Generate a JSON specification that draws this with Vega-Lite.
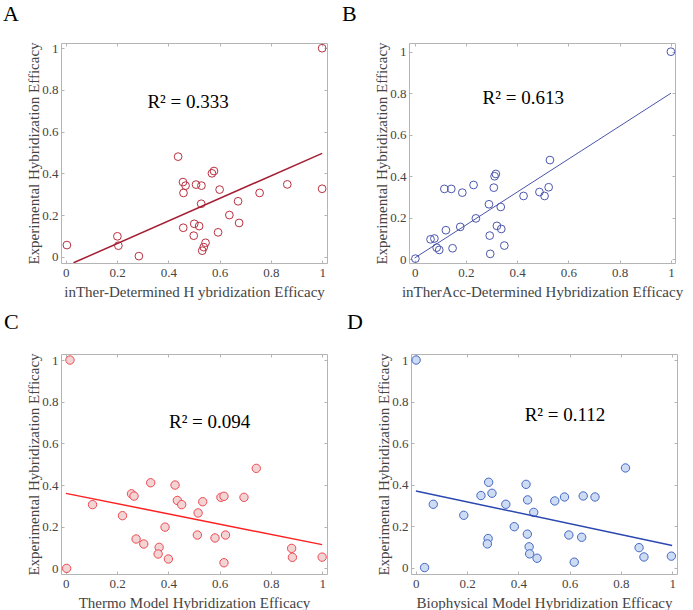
{
  "$schema": "https://vega.github.io/schema/vega-lite/v6.json",
  "padding": {"left": 2, "top": 2, "right": 0, "bottom": 0},
  "background": "white",
  "config": {
    "view": {"stroke": "#b4b4b4", "strokeWidth": 1},
    "font": "Liberation Serif",
    "axis": {
      "grid": false, "domain": false, "tickSize": -3, "tickColor": "#b4b4b4",
      "labelFont": "Liberation Serif", "labelFontSize": 13, "labelColor": "#444444",
      "titleFont": "Liberation Serif", "titleFontSize": 15, "titleColor": "#444444", "titleFontWeight": "normal",
      "values": [0, 0.2, 0.4, 0.6, 0.8, 1], "format": "~g", "labelPadding": 6
    },
    "axisX": {"titlePadding": 5},
    "axisY": {"titlePadding": 0},
    "title": {"font": "Liberation Serif", "fontSize": 22, "fontWeight": "normal", "anchor": "start", "frame": "group", "color": "#000000", "offset": 16}
  },
  "datasets": {
    "ptsA": [
      {"x": 1.0, "y": 1.0}, {"x": 0.438, "y": 0.48}, {"x": 0.578, "y": 0.411}, {"x": 0.57, "y": 0.4},
      {"x": 0.457, "y": 0.358}, {"x": 0.467, "y": 0.341}, {"x": 0.508, "y": 0.346}, {"x": 0.529, "y": 0.341},
      {"x": 0.459, "y": 0.306}, {"x": 0.6, "y": 0.322}, {"x": 0.528, "y": 0.254}, {"x": 0.864, "y": 0.347},
      {"x": 1.0, "y": 0.326}, {"x": 0.756, "y": 0.306}, {"x": 0.672, "y": 0.266}, {"x": 0.638, "y": 0.2},
      {"x": 0.676, "y": 0.162}, {"x": 0.594, "y": 0.117}, {"x": 0.501, "y": 0.158}, {"x": 0.52, "y": 0.147},
      {"x": 0.458, "y": 0.139}, {"x": 0.499, "y": 0.101}, {"x": 0.545, "y": 0.067}, {"x": 0.538, "y": 0.046},
      {"x": 0.532, "y": 0.029}, {"x": 0.201, "y": 0.098}, {"x": 0.205, "y": 0.053}, {"x": 0.004, "y": 0.056},
      {"x": 0.285, "y": 0.003}
    ],
    "ptsB": [
      {"x": 1.0, "y": 1.0}, {"x": 0.528, "y": 0.478}, {"x": 0.317, "y": 0.411}, {"x": 0.312, "y": 0.4},
      {"x": 0.23, "y": 0.358}, {"x": 0.116, "y": 0.339}, {"x": 0.143, "y": 0.339}, {"x": 0.186, "y": 0.321},
      {"x": 0.309, "y": 0.345}, {"x": 0.523, "y": 0.347}, {"x": 0.487, "y": 0.324}, {"x": 0.507, "y": 0.305},
      {"x": 0.425, "y": 0.305}, {"x": 0.29, "y": 0.265}, {"x": 0.336, "y": 0.252}, {"x": 0.239, "y": 0.197},
      {"x": 0.178, "y": 0.156}, {"x": 0.321, "y": 0.161}, {"x": 0.338, "y": 0.146}, {"x": 0.122, "y": 0.14},
      {"x": 0.293, "y": 0.114}, {"x": 0.062, "y": 0.096}, {"x": 0.077, "y": 0.1}, {"x": 0.086, "y": 0.056},
      {"x": 0.096, "y": 0.045}, {"x": 0.148, "y": 0.053}, {"x": 0.35, "y": 0.066}, {"x": 0.295, "y": 0.026},
      {"x": 0.003, "y": 0.003}
    ],
    "ptsC": [
      {"x": 0.016, "y": 1.0}, {"x": 0.743, "y": 0.48}, {"x": 0.331, "y": 0.411}, {"x": 0.426, "y": 0.4},
      {"x": 0.256, "y": 0.358}, {"x": 0.266, "y": 0.347}, {"x": 0.104, "y": 0.306}, {"x": 0.435, "y": 0.326},
      {"x": 0.452, "y": 0.306}, {"x": 0.534, "y": 0.32}, {"x": 0.605, "y": 0.341}, {"x": 0.617, "y": 0.346},
      {"x": 0.695, "y": 0.341}, {"x": 0.516, "y": 0.266}, {"x": 0.221, "y": 0.253}, {"x": 0.387, "y": 0.198},
      {"x": 0.513, "y": 0.16}, {"x": 0.623, "y": 0.16}, {"x": 0.582, "y": 0.146}, {"x": 0.274, "y": 0.141},
      {"x": 0.304, "y": 0.117}, {"x": 0.364, "y": 0.101}, {"x": 0.36, "y": 0.069}, {"x": 0.4, "y": 0.045},
      {"x": 0.617, "y": 0.027}, {"x": 0.881, "y": 0.096}, {"x": 0.884, "y": 0.053}, {"x": 1.0, "y": 0.054},
      {"x": 0.003, "y": 0.0}
    ],
    "ptsD": [
      {"x": 0.001, "y": 1.0}, {"x": 0.818, "y": 0.48}, {"x": 0.284, "y": 0.411}, {"x": 0.43, "y": 0.401},
      {"x": 0.254, "y": 0.347}, {"x": 0.297, "y": 0.358}, {"x": 0.068, "y": 0.305}, {"x": 0.436, "y": 0.326},
      {"x": 0.351, "y": 0.305}, {"x": 0.542, "y": 0.321}, {"x": 0.58, "y": 0.34}, {"x": 0.653, "y": 0.345},
      {"x": 0.699, "y": 0.34}, {"x": 0.46, "y": 0.266}, {"x": 0.187, "y": 0.252}, {"x": 0.384, "y": 0.197},
      {"x": 0.435, "y": 0.161}, {"x": 0.597, "y": 0.157}, {"x": 0.647, "y": 0.146}, {"x": 0.282, "y": 0.14},
      {"x": 0.279, "y": 0.114}, {"x": 0.442, "y": 0.1}, {"x": 0.444, "y": 0.066}, {"x": 0.473, "y": 0.045},
      {"x": 0.618, "y": 0.026}, {"x": 0.871, "y": 0.096}, {"x": 0.89, "y": 0.051}, {"x": 0.997, "y": 0.055},
      {"x": 0.034, "y": 0.0}
    ],
    "fitA": [{"x": 0.03, "y": -0.029}, {"x": 1.0, "y": 0.496}],
    "fitB": [{"x": 0.0, "y": 0.006}, {"x": 1.0, "y": 0.8}],
    "fitC": [{"x": 0.0, "y": 0.36}, {"x": 1.0, "y": 0.114}],
    "fitD": [{"x": 0.0, "y": 0.369}, {"x": 1.0, "y": 0.106}],
    "r2A": [{"x": 0.477, "y": 0.744, "t": "R² = 0.333"}],
    "r2B": [{"x": 0.424, "y": 0.775, "t": "R² = 0.613"}],
    "r2C": [{"x": 0.561, "y": 0.704, "t": "R² = 0.094"}],
    "r2D": [{"x": 0.582, "y": 0.735, "t": "R² = 0.112"}]
  },
  "spacing": 10,
  "vconcat": [
    {
      "spacing": 12,
      "hconcat": [
        {
          "title": {"text": "A", "dx": -58},
          "width": 266, "height": 220,
          "resolve": {"axis": {"x": "independent", "y": "independent"}},
          "layer": [
            {
              "data": {"name": "ptsA"},
              "mark": {"type": "point", "shape": "circle", "size": 60, "filled": false, "stroke": "#b8303f", "strokeWidth": 1, "opacity": 1},
              "encoding": {
                "x": {"field": "x", "type": "quantitative", "scale": {"domain": [-0.019, 1.019], "nice": false, "zero": false}, "axis": {"title": "inTher-Determined H ybridization Efficacy"}},
                "y": {"field": "y", "type": "quantitative", "scale": {"domain": [-0.03, 1.025], "nice": false, "zero": false}, "axis": {"title": "Experimental Hybridization Efficacy"}}
              }
            },
            {
              "data": {"name": "fitA"},
              "mark": {"type": "line", "color": "#a51d33", "strokeWidth": 1.5, "clip": true},
              "encoding": {
                "x": {"field": "x", "type": "quantitative", "axis": {"orient": "top", "labels": false, "title": null}},
                "y": {"field": "y", "type": "quantitative", "axis": {"orient": "right", "labels": false, "title": null}}
              }
            },
            {
              "data": {"name": "r2A"},
              "mark": {"type": "text", "fontSize": 19, "font": "Liberation Serif", "color": "#000000", "align": "center", "baseline": "middle"},
              "encoding": {"x": {"field": "x", "type": "quantitative", "axis": null}, "y": {"field": "y", "type": "quantitative", "axis": null}, "text": {"field": "t"}}
            }
          ]
        },
        {
          "title": {"text": "B", "dx": -67},
          "width": 266, "height": 220,
          "resolve": {"axis": {"x": "independent", "y": "independent"}},
          "layer": [
            {
              "data": {"name": "ptsB"},
              "mark": {"type": "point", "shape": "circle", "size": 60, "filled": false, "stroke": "#4b57ad", "strokeWidth": 1, "opacity": 1},
              "encoding": {
                "x": {"field": "x", "type": "quantitative", "scale": {"domain": [-0.022, 1.016], "nice": false, "zero": false}, "axis": {"title": "inTherAcc-Determined Hybridization Efficacy"}},
                "y": {"field": "y", "type": "quantitative", "scale": {"domain": [-0.018, 1.042], "nice": false, "zero": false}, "axis": {"title": "Experimental Hybridization Efficacy"}}
              }
            },
            {
              "data": {"name": "fitB"},
              "mark": {"type": "line", "color": "#4a55a8", "strokeWidth": 1, "clip": true},
              "encoding": {
                "x": {"field": "x", "type": "quantitative", "axis": {"orient": "top", "labels": false, "title": null}},
                "y": {"field": "y", "type": "quantitative", "axis": {"orient": "right", "labels": false, "title": null}}
              }
            },
            {
              "data": {"name": "r2B"},
              "mark": {"type": "text", "fontSize": 19, "font": "Liberation Serif", "color": "#000000", "align": "center", "baseline": "middle"},
              "encoding": {"x": {"field": "x", "type": "quantitative", "axis": null}, "y": {"field": "y", "type": "quantitative", "axis": null}, "text": {"field": "t"}}
            }
          ]
        }
      ]
    },
    {
      "spacing": 17,
      "hconcat": [
        {
          "title": {"text": "C", "dx": -57, "offset": 19},
          "width": 266, "height": 220,
          "resolve": {"axis": {"x": "independent", "y": "independent"}},
          "layer": [
            {
              "data": {"name": "ptsC"},
              "mark": {"type": "point", "shape": "circle", "size": 70, "filled": true, "fill": "#f2d4d5", "stroke": "#ee4a52", "strokeWidth": 1, "opacity": 1},
              "encoding": {
                "x": {"field": "x", "type": "quantitative", "scale": {"domain": [-0.019, 1.019], "nice": false, "zero": false}, "axis": {"title": "Thermo Model Hybridization Efficacy"}},
                "y": {"field": "y", "type": "quantitative", "scale": {"domain": [-0.027, 1.029], "nice": false, "zero": false}, "axis": {"title": "Experimental Hybridization Efficacy"}}
              }
            },
            {
              "data": {"name": "fitC"},
              "mark": {"type": "line", "color": "#ff2020", "strokeWidth": 1.5, "clip": true},
              "encoding": {
                "x": {"field": "x", "type": "quantitative", "axis": {"orient": "top", "labels": false, "title": null}},
                "y": {"field": "y", "type": "quantitative", "axis": {"orient": "right", "labels": false, "title": null}}
              }
            },
            {
              "data": {"name": "r2C"},
              "mark": {"type": "text", "fontSize": 19, "font": "Liberation Serif", "color": "#000000", "align": "center", "baseline": "middle"},
              "encoding": {"x": {"field": "x", "type": "quantitative", "axis": null}, "y": {"field": "y", "type": "quantitative", "axis": null}, "text": {"field": "t"}}
            }
          ]
        },
        {
          "title": {"text": "D", "dx": -64, "offset": 19},
          "width": 266, "height": 220,
          "resolve": {"axis": {"x": "independent", "y": "independent"}},
          "layer": [
            {
              "data": {"name": "ptsD"},
              "mark": {"type": "point", "shape": "circle", "size": 70, "filled": true, "fill": "#cddbf3", "stroke": "#4468c4", "strokeWidth": 1, "opacity": 1},
              "encoding": {
                "x": {"field": "x", "type": "quantitative", "scale": {"domain": [-0.019, 1.019], "nice": false, "zero": false}, "axis": {"title": "Biophysical Model Hybridization Efficacy"}},
                "y": {"field": "y", "type": "quantitative", "scale": {"domain": [-0.031, 1.029], "nice": false, "zero": false}, "axis": {"title": "Experimental Hybridization Efficacy"}}
              }
            },
            {
              "data": {"name": "fitD"},
              "mark": {"type": "line", "color": "#2a48b0", "strokeWidth": 1.5, "clip": true},
              "encoding": {
                "x": {"field": "x", "type": "quantitative", "axis": {"orient": "top", "labels": false, "title": null}},
                "y": {"field": "y", "type": "quantitative", "axis": {"orient": "right", "labels": false, "title": null}}
              }
            },
            {
              "data": {"name": "r2D"},
              "mark": {"type": "text", "fontSize": 19, "font": "Liberation Serif", "color": "#000000", "align": "center", "baseline": "middle"},
              "encoding": {"x": {"field": "x", "type": "quantitative", "axis": null}, "y": {"field": "y", "type": "quantitative", "axis": null}, "text": {"field": "t"}}
            }
          ]
        }
      ]
    }
  ]
}
